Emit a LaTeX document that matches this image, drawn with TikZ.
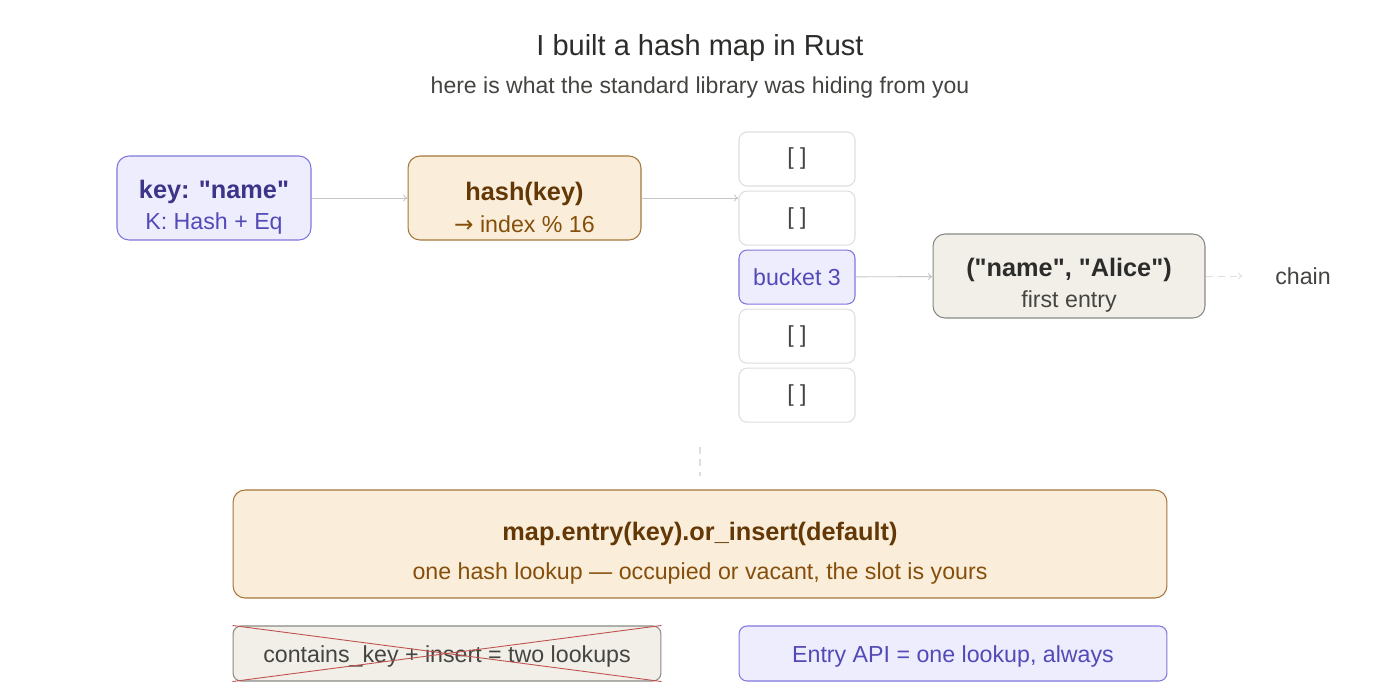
\documentclass[tikz,border=0pt]{standalone}
\usepackage{fontspec}
\setmainfont{Liberation Sans}[Ligatures=TeXOff]
\newfontfamily\arrowfont{DejaVu Sans}
\usetikzlibrary{positioning,arrows.meta}

\definecolor{purpfill}{HTML}{EEEDFE}
\definecolor{purpline}{HTML}{7F77DD}
\definecolor{purptext}{HTML}{3C3489}
\definecolor{purpsub}{HTML}{534AB7}
\definecolor{ambfill}{HTML}{FAEEDA}
\definecolor{ambline}{HTML}{A5773A}
\definecolor{ambtext}{HTML}{633806}
\definecolor{ambsub}{HTML}{854F0B}
\definecolor{grayfill}{HTML}{F1EFE8}
\definecolor{grayline}{HTML}{8A8984}
\definecolor{graytext}{HTML}{2C2C2A}
\definecolor{graysub}{HTML}{444441}
\definecolor{slotline}{HTML}{DEDEDE}
\definecolor{wirecol}{HTML}{C6C6C6}
\definecolor{crossred}{HTML}{C0504D}

% two lines of text: bold title, then a softer line below
\newcommand{\twoline}[4][0pt]{\rule{0pt}{21pt}{\fontsize{14.4}{18}\selectfont\bfseries #2}\\[#1]{\color{#4}#3}}
% one line, nudged a little lower
\newcommand{\oneline}[1]{\rule{0pt}{13pt}#1}

\tikzset{
  box/.style={rounded corners=0.24cm, line width=0.6pt, align=center, inner sep=0pt,
    font=\fontsize{13.2}{18}\selectfont},
  keybox/.style={box, fill=purpfill, draw=purpline, text=purptext},
  hashbox/.style={box, fill=ambfill, draw=ambline, text=ambtext},
  entrybox/.style={box, fill=grayfill, draw=grayline, text=graytext},
  slot/.style={box, fill=white, draw=slotline, text=graysub,
    minimum width=2.32cm, minimum height=1.08cm, rounded corners=0.16cm},
  wire/.style={draw=wirecol, line width=0.5pt, -{To[length=2.5pt,width=4pt]}},
}

\begin{document}
\begin{tikzpicture}[x=0.02cm, y=-0.02cm]
  \useasboundingbox[fill=white] (0,0) rectangle (1400,700);

  % heading
  \node[text=graytext, font=\fontsize{16.5}{20}\selectfont] (title) at (700,48) {I built a hash map in Rust};
  \node[text=graysub, font=\fontsize{13.1}{16}\selectfont] (sub) at (700,88) {here is what the standard library was hiding from you};

  % key and hash
  \node[keybox, minimum width=3.88cm, minimum height=1.68cm] (key) at (214,198)
    {\twoline{key: "name"}{K: Hash + Eq}{purpsub}};
  \node[hashbox, minimum width=4.66cm, minimum height=1.68cm] (hash) at (524.5,198)
    {\twoline{hash(key)}{{\arrowfont →} index \% 16}{ambsub}};

  % bucket column
  \node[slot] (b0) at (797,159) {[ ]};
  \node[slot, below=0.08cm of b0] (b1) {[ ]};
  \node[slot, below=0.08cm of b1, fill=purpfill, draw=purpline, text=purpsub] (b3) {bucket 3};
  \node[slot, below=0.08cm of b3] (b4) {[ ]};
  \node[slot, below=0.08cm of b4] (b5) {[ ]};

  % first entry and the chain
  \node[entrybox, minimum width=5.44cm, minimum height=1.68cm] (entry) at (1069,276)
    {\twoline{("name", "Alice")}{first entry}{graysub}};
  \node[text=graysub, font=\fontsize{13.2}{16}\selectfont] (chain) at (1303,276) {chain};

  \draw[wire] (key) -- (hash);
  \draw[wire] (hash.east) -- (hash.east -| b1.west);
  \draw[wire] (b3) -- (entry);
  \draw[wire, dashed, dash pattern=on 4pt off 3pt, draw=slotline] (entry.east) -- ++(37,0);

  \coordinate (gapA) at (700,447);
  \coordinate (gapB) at (700,476);
  \draw[draw=slotline, line width=0.6pt, dash pattern=on 4pt off 3pt] (gapA) -- (gapB);

  % the entry api
  \node[hashbox, minimum width=18.68cm, minimum height=2.16cm] (api) at (700,544)
    {\twoline[4.5pt]{map.entry(key).or\_insert(default)}{one hash lookup — occupied or vacant, the slot is yours}{ambsub}};

  \node[entrybox, text=graysub, minimum width=8.56cm, minimum height=1.1cm, rounded corners=0.16cm] (old) at (447,653.5)
    {\oneline{contains\_key + insert = two lookups}};
  \draw[crossred, line width=0.5pt] (old.north west) -- (old.south east);
  \draw[crossred, line width=0.5pt] (old.south west) -- (old.north east);

  \node[keybox, text=purpsub, minimum width=8.56cm, minimum height=1.1cm, rounded corners=0.16cm] (new) at (953,653.5)
    {\oneline{Entry API = one lookup, always}};
\end{tikzpicture}
\end{document}
